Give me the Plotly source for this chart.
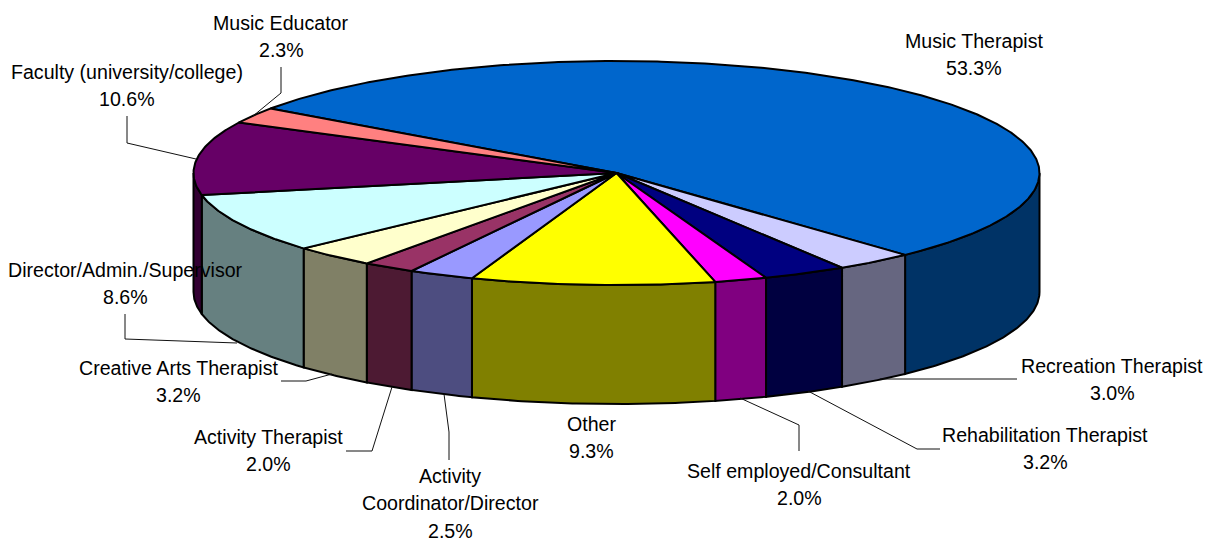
import numpy as np
import plotly.graph_objects as go

# ---- data ----
categories = ["Music Therapist", "Recreation Therapist", "Rehabilitation Therapist",
              "Self employed/Consultant", "Other", "Activity Coordinator/Director",
              "Activity Therapist", "Creative Arts Therapist", "Director/Admin./Supervisor",
              "Faculty (university/college)", "Music Educator"]
values = [53.3, 3.0, 3.2, 2.0, 9.3, 2.5, 2.0, 3.2, 8.6, 10.6, 2.3]
top_colors = ["#0066CC", "#CCCCFF", "#000080", "#FF00FF", "#FFFF00", "#9999FF",
              "#993366", "#FFFFCC", "#CCFFFF", "#660066", "#FF8080"]
side_colors = ["#003366", "#666680", "#000040", "#800080", "#808000", "#4D4D80",
               "#4D1A33", "#808066", "#668080", "#330033", "#804040"]
# label text lines and their centre positions
label_lines = [["Music Therapist"], ["Recreation Therapist"], ["Rehabilitation Therapist"],
               ["Self employed/Consultant"], ["Other"], ["Activity", "Coordinator/Director"],
               ["Activity Therapist"], ["Creative Arts Therapist"],
               ["Director/Admin./Supervisor"], ["Faculty (university/college)"], ["Music Educator"]]
label_x = [974, 1112, 1045, 799, 591, 450, 268, 178, 125, 127, 281]
label_y = [41, 366, 435, 471, 424, 476, 437, 368, 270, 72, 23]
leaders = [None,
           [(1017, 379), (880, 379)],
           [(940, 449), (917, 449), (808, 391)],
           [(799, 451), (799, 425), (740, 398)],
           None,
           [(449, 460), (449, 432), (444, 394)],
           [(346, 451), (372, 451), (392, 387)],
           [(281, 381), (306, 381), (332, 374)],
           [(125, 314), (125, 339), (237, 343)],
           [(127, 116), (127, 143), (196, 159)],
           [(281, 67), (281, 93), (253, 116)]]

# ---- pie geometry ----
CX, CY, RX, RY, DEPTH = 616.5, 173, 423, 112, 119
START = 305.1
LINE_SPACING = 27.3


def arc(a0, a1, dy=0):
    t = np.radians(np.linspace(a0, a1, max(2, int(abs(a1 - a0) * 2) + 2)))
    return CX + RX * np.sin(t), CY - RY * np.cos(t) + dy


fig = go.Figure()
edges = START + np.concatenate([[0], np.cumsum(values)]) * 360 / sum(values)


def poly(x, y, color):
    fig.add_trace(go.Scatter(x=list(x), y=list(y), mode="lines", fill="toself", fillcolor=color,
                             line=dict(color="black", width=2), hoverinfo="skip", showlegend=False))


# side walls: only the front half of the rim is visible
for i in range(len(values)):
    for lo, hi in ((90, 270), (450, 630)):
        a0, a1 = max(edges[i], lo), min(edges[i + 1], hi)
        if a1 > a0:
            x1, y1 = arc(a0, a1)
            x2, y2 = arc(a1, a0, DEPTH)
            poly(np.r_[x1, x2, x1[0]], np.r_[y1, y2, y1[0]], side_colors[i])

# top face
for i in range(len(values)):
    x1, y1 = arc(edges[i], edges[i + 1])
    poly(np.r_[CX, x1, CX], np.r_[CY, y1, CY], top_colors[i])

# leader lines
for seg in leaders:
    if seg:
        fig.add_trace(go.Scatter(x=[p[0] for p in seg], y=[p[1] for p in seg], mode="lines",
                                 line=dict(color="#111111", width=1), hoverinfo="skip", showlegend=False))

# labels
for i, lines in enumerate(label_lines):
    rows = lines + [f"{values[i]:.1f}%"]
    for j, txt in enumerate(rows):
        fig.add_annotation(x=label_x[i], y=label_y[i] + j * LINE_SPACING, text=txt, showarrow=False,
                           xref="x", yref="y", xanchor="center", yanchor="middle",
                           font=dict(family="Liberation Sans", size=19.6, color="black"))

fig.update_xaxes(range=[0, 1206], visible=False, fixedrange=True)
fig.update_yaxes(range=[542, 0], visible=False, fixedrange=True)
fig.update_layout(width=1206, height=542, margin=dict(l=0, r=0, t=0, b=0), autosize=False,
                  paper_bgcolor="white", plot_bgcolor="white", showlegend=False)
fig.write_html("out.html", config={"displayModeBar": False},
               post_script="document.body.style.margin='0';document.documentElement.style.overflow='hidden';")
